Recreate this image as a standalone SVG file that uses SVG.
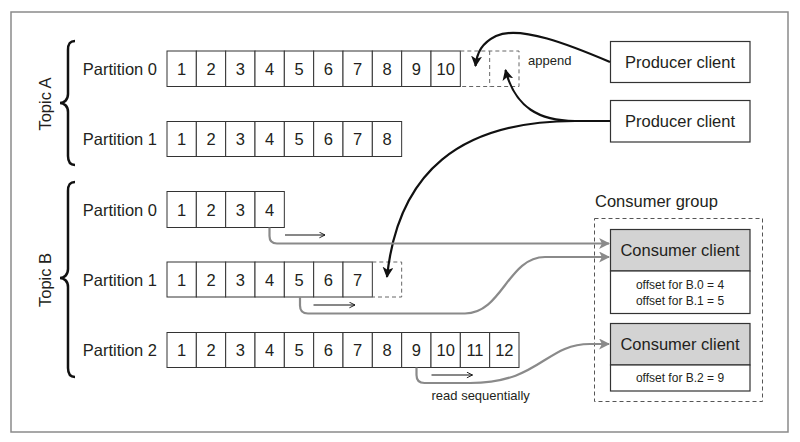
<svg xmlns="http://www.w3.org/2000/svg" width="800" height="442" viewBox="0 0 800 442">
<defs>
<style>
.t{font-family:"Liberation Sans",Arial,sans-serif;font-size:16.5px;fill:#231f20}
.s{font-family:"Liberation Sans",Arial,sans-serif;font-size:13px;fill:#231f20}
.o{font-family:"Liberation Sans",Arial,sans-serif;font-size:12px;fill:#231f20}
.c{fill:#fff;stroke:#333;stroke-width:1}
.d{fill:none;stroke:#666;stroke-width:1;stroke-dasharray:4 3}
.br{fill:none;stroke:#111;stroke-width:2.5}
.blk{fill:none;stroke:#111;stroke-width:2.2}
.gry{fill:none;stroke:#8a8a8a;stroke-width:2.2}
.thin{fill:none;stroke:#111;stroke-width:1}
</style>
<marker id="ab" viewBox="0 0 10 10" refX="9" refY="5" markerWidth="5" markerHeight="5" orient="auto" markerUnits="strokeWidth"><path d="M0,0 L10,5 L0,10 L2.5,5 z" fill="#111"/></marker>
<marker id="ag" viewBox="0 0 10 10" refX="9" refY="5" markerWidth="5" markerHeight="5" orient="auto" markerUnits="strokeWidth"><path d="M0,0 L10,5 L0,10 L2.5,5 z" fill="#8a8a8a"/></marker>
<marker id="as" viewBox="0 0 10 10" refX="9" refY="5" markerWidth="7" markerHeight="7" orient="auto" markerUnits="strokeWidth"><path d="M1,1 L9,5 L1,9" fill="none" stroke="#111" stroke-width="1.3"/></marker>
</defs>
<rect x="11" y="12" width="777" height="420" fill="#fff" stroke="#8a8a8a" stroke-width="1.5"/>

<g id="topicA">
<path class="br" d="M75,41 C69,41 68,45 68,50 L68,94 C68,100 64,103 60,103 C64,103 68,106 68,112 L68,156 C68,162 70,165 75,165"/>
<text class="t" transform="translate(51,104) rotate(-90)" text-anchor="middle">Topic A</text>
</g>
<g id="topicB">
<path class="br" d="M75,182 C69,182 68,186 68,191 L68,269 C68,275 64,278 60,278 C64,278 68,281 68,287 L68,368 C68,374 70,377 75,377"/>
<text class="t" transform="translate(51,280) rotate(-90)" text-anchor="middle">Topic B</text>
</g>

<g id="a-p0">
<text class="t" x="157" y="74.5" text-anchor="end">Partition 0</text>
<rect class="c" x="167" y="51" width="29.33" height="35.5"/><rect class="c" x="196.33" y="51" width="29.33" height="35.5"/><rect class="c" x="225.67" y="51" width="29.33" height="35.5"/><rect class="c" x="255" y="51" width="29.33" height="35.5"/><rect class="c" x="284.33" y="51" width="29.33" height="35.5"/><rect class="c" x="313.67" y="51" width="29.33" height="35.5"/><rect class="c" x="343" y="51" width="29.33" height="35.5"/><rect class="c" x="372.33" y="51" width="29.33" height="35.5"/><rect class="c" x="401.67" y="51" width="29.33" height="35.5"/><rect class="c" x="431" y="51" width="29.33" height="35.5"/>
<path class="d" d="M460.33,51 H519 V86.5 H460.33 M489.67,51 V86.5"/>
<g class="t" text-anchor="middle"><text x="181.67" y="74.5">1</text><text x="211" y="74.5">2</text><text x="240.33" y="74.5">3</text><text x="269.67" y="74.5">4</text><text x="299" y="74.5">5</text><text x="328.33" y="74.5">6</text><text x="357.67" y="74.5">7</text><text x="387" y="74.5">8</text><text x="416.33" y="74.5">9</text><text x="445.67" y="74.5">10</text></g>
<text class="s" x="528" y="64.5">append</text>
</g>

<g id="a-p1">
<text class="t" x="157" y="145" text-anchor="end">Partition 1</text>
<rect class="c" x="167" y="121.5" width="29.33" height="35"/><rect class="c" x="196.33" y="121.5" width="29.33" height="35"/><rect class="c" x="225.67" y="121.5" width="29.33" height="35"/><rect class="c" x="255" y="121.5" width="29.33" height="35"/><rect class="c" x="284.33" y="121.5" width="29.33" height="35"/><rect class="c" x="313.67" y="121.5" width="29.33" height="35"/><rect class="c" x="343" y="121.5" width="29.33" height="35"/><rect class="c" x="372.33" y="121.5" width="29.33" height="35"/>
<g class="t" text-anchor="middle"><text x="181.67" y="145">1</text><text x="211" y="145">2</text><text x="240.33" y="145">3</text><text x="269.67" y="145">4</text><text x="299" y="145">5</text><text x="328.33" y="145">6</text><text x="357.67" y="145">7</text><text x="387" y="145">8</text></g>
</g>

<g id="b-p0">
<text class="t" x="157" y="215.5" text-anchor="end">Partition 0</text>
<rect class="c" x="167" y="191.5" width="29.33" height="36"/><rect class="c" x="196.33" y="191.5" width="29.33" height="36"/><rect class="c" x="225.67" y="191.5" width="29.33" height="36"/><rect class="c" x="255" y="191.5" width="29.33" height="36"/>
<g class="t" text-anchor="middle"><text x="181.67" y="215.5">1</text><text x="211" y="215.5">2</text><text x="240.33" y="215.5">3</text><text x="269.67" y="215.5">4</text></g>
</g>

<g id="b-p1">
<text class="t" x="157" y="285.5" text-anchor="end">Partition 1</text>
<rect class="c" x="167" y="262" width="29.33" height="35"/><rect class="c" x="196.33" y="262" width="29.33" height="35"/><rect class="c" x="225.67" y="262" width="29.33" height="35"/><rect class="c" x="255" y="262" width="29.33" height="35"/><rect class="c" x="284.33" y="262" width="29.33" height="35"/><rect class="c" x="313.67" y="262" width="29.33" height="35"/><rect class="c" x="343" y="262" width="29.33" height="35"/>
<path class="d" d="M372.33,262 H401.67 V297 H372.33"/>
<g class="t" text-anchor="middle"><text x="181.67" y="285.5">1</text><text x="211" y="285.5">2</text><text x="240.33" y="285.5">3</text><text x="269.67" y="285.5">4</text><text x="299" y="285.5">5</text><text x="328.33" y="285.5">6</text><text x="357.67" y="285.5">7</text></g>
</g>

<g id="b-p2">
<text class="t" x="157" y="356" text-anchor="end">Partition 2</text>
<rect class="c" x="167" y="332.5" width="29.33" height="35"/><rect class="c" x="196.33" y="332.5" width="29.33" height="35"/><rect class="c" x="225.67" y="332.5" width="29.33" height="35"/><rect class="c" x="255" y="332.5" width="29.33" height="35"/><rect class="c" x="284.33" y="332.5" width="29.33" height="35"/><rect class="c" x="313.67" y="332.5" width="29.33" height="35"/><rect class="c" x="343" y="332.5" width="29.33" height="35"/><rect class="c" x="372.33" y="332.5" width="29.33" height="35"/><rect class="c" x="401.67" y="332.5" width="29.33" height="35"/><rect class="c" x="431" y="332.5" width="29.33" height="35"/><rect class="c" x="460.33" y="332.5" width="29.33" height="35"/><rect class="c" x="489.67" y="332.5" width="29.33" height="35"/>
<g class="t" text-anchor="middle"><text x="181.67" y="356">1</text><text x="211" y="356">2</text><text x="240.33" y="356">3</text><text x="269.67" y="356">4</text><text x="299" y="356">5</text><text x="328.33" y="356">6</text><text x="357.67" y="356">7</text><text x="387" y="356">8</text><text x="416.33" y="356">9</text><text x="445.67" y="356">10</text><text x="475" y="356">11</text><text x="504.33" y="356">12</text></g>
<text class="s" x="431.5" y="400">read sequentially</text>
</g>

<g id="producer1">
<rect x="610.5" y="41.5" width="139.5" height="41" fill="#fff" stroke="#333" stroke-width="1.2"/>
<text class="t" x="680" y="68" text-anchor="middle">Producer client</text>
</g>
<g id="producer2">
<rect x="610.5" y="100.5" width="139.5" height="41.5" fill="#fff" stroke="#333" stroke-width="1.2"/>
<text class="t" x="680" y="127" text-anchor="middle">Producer client</text>
</g>

<g id="consumer-group">
<rect x="594.5" y="218.5" width="168" height="183" fill="none" stroke="#555" stroke-width="1" stroke-dasharray="4 3"/>
<text class="t" x="595" y="207">Consumer group</text>
</g>
<g id="consumer1">
<rect x="610.5" y="229.5" width="139.5" height="41.5" fill="#d3d3d3" stroke="#333" stroke-width="1.2"/>
<rect x="610.5" y="271" width="139.5" height="42.5" fill="#fff" stroke="#333" stroke-width="1.2"/>
<text class="t" x="680" y="256" text-anchor="middle">Consumer client</text>
<text class="o" x="680" y="288.5" text-anchor="middle">offset for B.0 = 4</text>
<text class="o" x="680" y="304.5" text-anchor="middle">offset for B.1 = 5</text>
</g>
<g id="consumer2">
<rect x="610.5" y="323.5" width="139.5" height="41.5" fill="#d3d3d3" stroke="#333" stroke-width="1.2"/>
<rect x="610.5" y="365" width="139.5" height="26" fill="#fff" stroke="#333" stroke-width="1.2"/>
<text class="t" x="680" y="350" text-anchor="middle">Consumer client</text>
<text class="o" x="680" y="382" text-anchor="middle">offset for B.2 = 9</text>
</g>

<g id="connectors">
<path class="blk" marker-end="url(#ab)" d="M610,62 C570,45 520,25 496,36 C482,43 477,52 475.5,66"/>
<path class="blk" marker-end="url(#ab)" d="M610,121 L575,121 C540,121 515,108 505.5,70"/>
<path class="blk" marker-end="url(#ab)" d="M575,121 C460,121 398,172 387,277"/>
<path class="gry" marker-end="url(#ag)" d="M269.5,227.5 L269.5,236 Q269.5,243.5 277,243.5 L609,243.5"/>
<path class="gry" marker-end="url(#ag)" d="M300,297 L300,305.5 Q300,313.5 308,313.5 L465,313.5 C502,313.5 508,257 545,257 L609,257"/>
<path class="gry" marker-end="url(#ag)" d="M416.5,367.5 L416.5,375 Q416.5,383 424.5,383 L470,383 C540,383 545,344 590,344 L609,344"/>
<path class="thin" marker-end="url(#as)" d="M285,235 L325,235"/>
<path class="thin" marker-end="url(#as)" d="M313.5,305 L355,305"/>
<path class="thin" marker-end="url(#as)" d="M431.5,375 L472.5,375"/>
</g>
</svg>
